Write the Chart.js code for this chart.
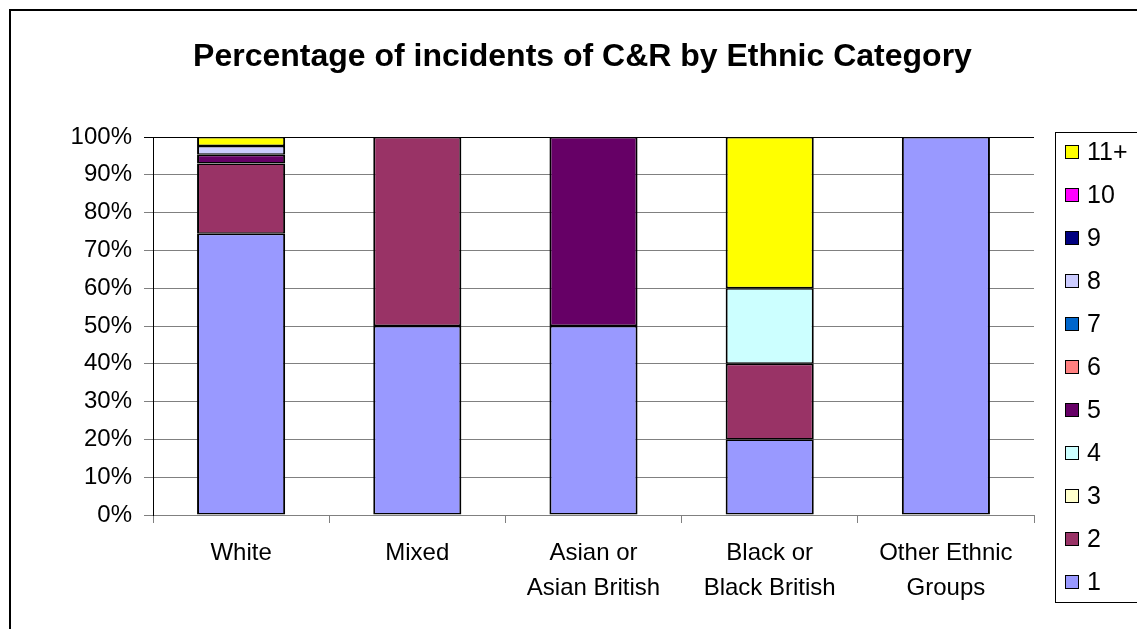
<!DOCTYPE html>
<html>
<head>
<meta charset="utf-8">
<script src="https://cdn.jsdelivr.net/npm/chart.js@4"></script>
<style>
  html, body { margin: 0; padding: 0; background: #fff; overflow: hidden; }
  #frame { position: absolute; left: 9px; top: 9px; width: 1200px; height: 700px; border-left: 2px solid #000; border-top: 2px solid #000; }
  #chart { position: absolute; left: 0; top: 0; }
</style>
</head>
<body>
<div id="frame"></div>
<canvas id="chart" width="1137" height="629"></canvas>
<script>
const categories = ['White', 'Mixed', ['Asian or', 'Asian British'], ['Black or', 'Black British'], ['Other Ethnic', 'Groups']];

// percentage of incidents per number of C&R, by ethnic group
const s1   = [74.4, 50, 50, 20, 100];
const s2   = [18.6, 50, 0, 20, 0];
const s3   = [0, 0, 0, 0, 0];
const s4   = [0, 0, 0, 20, 0];
const s5   = [2.3, 0, 50, 0, 0];
const s6   = [0, 0, 0, 0, 0];
const s7   = [0, 0, 0, 0, 0];
const s8   = [2.3, 0, 0, 0, 0];
const s9   = [0, 0, 0, 0, 0];
const s10  = [0, 0, 0, 0, 0];
const s11p = [2.4, 0, 0, 40, 0];

const seriesNames = ['1', '2', '3', '4', '5', '6', '7', '8', '9', '10', '11+'];
const seriesData = [s1, s2, s3, s4, s5, s6, s7, s8, s9, s10, s11p];
const seriesColors = ['#9999FF', '#993366', '#FFFFCC', '#CCFFFF', '#660066', '#FF8080', '#0066CC', '#CCCCFF', '#000080', '#FF00FF', '#FFFF00'];

const FONT = "'Liberation Sans', Arial, sans-serif";

// Excel-style boxed legend, last series on top
const boxLegend = {
    id: 'boxLegend',
    afterDraw(chart) {
        const ctx = chart.ctx;
        ctx.save();
        ctx.strokeStyle = '#000';
        ctx.lineWidth = 1;
        ctx.strokeRect(1055.5, 132.5, 100, 470);
        const ds = chart.data.datasets;
        ctx.font = '25px ' + FONT;
        ctx.textBaseline = 'middle';
        for (let i = 0; i < ds.length; i++) {
            const d = ds[ds.length - 1 - i];
            const y = 152 + i * 43;
            ctx.fillStyle = d.backgroundColor;
            ctx.fillRect(1065, y - 7, 14, 14);
            ctx.strokeStyle = '#000';
            ctx.strokeRect(1065.5, y - 6.5, 13, 13);
            ctx.fillStyle = '#000';
            ctx.fillText(d.label, 1087, y + 1);
        }
        ctx.restore();
    }
};

new Chart(document.getElementById('chart'), {
    type: 'bar',
    data: {
        labels: categories,
        datasets: seriesNames.map((name, i) => ({
            label: name,
            data: seriesData[i],
            backgroundColor: seriesColors[i],
            borderColor: '#000',
            borderWidth: c => c.raw ? { left: 2, right: 2, top: 1.5, bottom: 1.5 } : 0,
            borderSkipped: false,
            barPercentage: 1,
            categoryPercentage: 0.5
        }))
    },
    options: {
        responsive: false,
        animation: false,
        devicePixelRatio: 1,
        layout: { padding: { left: 28, right: 0, top: 38, bottom: 14 } },
        plugins: {
            legend: { display: false },
            tooltip: { enabled: false },
            title: {
                display: true,
                text: 'Percentage of incidents of C&R by Ethnic Category',
                color: '#000',
                font: { family: FONT, size: 32, weight: 'bold', lineHeight: 1.2 },
                padding: { top: 0, bottom: 60.6 }
            }
        },
        scales: {
            x: {
                stacked: true,
                grid: { drawOnChartArea: false, offset: true, tickLength: 8, color: '#808080' },
                border: { color: '#808080' },
                ticks: { color: '#000', font: { family: FONT, size: 24, lineHeight: 1.46 }, padding: 13, maxRotation: 0 },
                afterFit(scale) { scale.height = 100; }
            },
            y: {
                stacked: true,
                min: 0,
                max: 100,
                grid: {
                    color: c => c.tick && c.tick.value === 100 ? '#000' : '#808080',
                    tickLength: 9
                },
                border: { color: '#000' },
                ticks: {
                    stepSize: 10,
                    color: '#000',
                    font: { family: FONT, size: 24 },
                    padding: 12,
                    callback: v => v + '%'
                },
                afterFit(scale) { scale.width = 125; }
            },
            // empty right axis reserving room for the legend box
            y2: {
                position: 'right',
                grid: { display: false },
                border: { display: false },
                ticks: { display: false },
                afterFit(scale) { scale.width = 103; }
            }
        }
    },
    plugins: [boxLegend]
});
</script>
</body>
</html>
